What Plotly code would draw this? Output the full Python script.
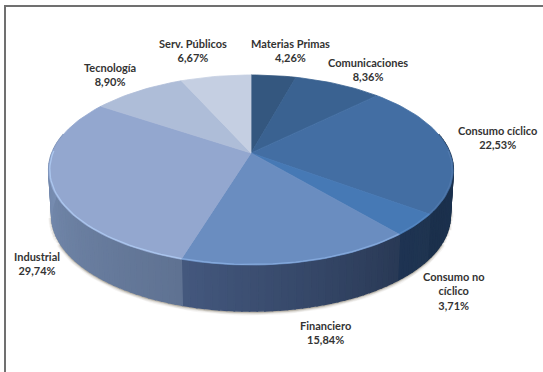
import math
import plotly.graph_objects as go

# Portfolio breakdown by sector, clockwise from twelve o'clock
sectors = ["Materias Primas", "Comunicaciones", "Consumo cíclico", "Consumo no cíclico",
           "Financiero", "Industrial", "Tecnología", "Serv. Públicos"]
weights = [4.26, 8.36, 22.53, 3.71, 15.84, 29.74, 8.90, 6.67]
label_text = ["Materias Primas<br>4,26%", "Comunicaciones<br>8,36%", "Consumo cíclico<br>22,53%",
              "Consumo no<br>cíclico<br>3,71%", "Financiero<br>15,84%", "Industrial<br>29,74%",
              "Tecnología<br>8,90%", "Serv. Públicos<br>6,67%"]

# Styling per sector
top_colors = ["#34577F", "#3A6291", "#436EA3", "#4679B5", "#6A8DC0", "#93A7CF", "#AEBDD8", "#C5CFE2"]
rim_colors = ["#5F7FA8", "#6288B8", "#4F78AC", "#5587C2", "#84A9DC", "#ABC6EE", "#C4D2E8", "#D6DEEC"]
side_start = ["#1B2F4A", "#1B2F4A", "#1C3350", "#1F3450", "#293955", "#5F7292", "#8FA3C4", "#8FA3C4"]
side_end = ["#1B2F4A", "#1B2F4A", "#1B304C", "#1E3352", "#44587E", "#8299BF", "#8FA3C4", "#8FA3C4"]
label_xy = [(290, 50), (368, 69.5), (497, 137), (453, 291), (325, 332.5), (37, 263.5), (110, 74.5), (193, 50.5)]

# Perspective disc: u to the right, v towards the viewer
CX, CY = 251, 153
A, B, K = 199, 92, 0.179
DEPTH = 46


def project(u, v, drop=0.0, shrink=1.0):
    d = 1 - K * v
    return CX + shrink * A * u / d, CY + B * v / d + drop


def rim(pct):
    t = math.radians(pct * 3.6)
    return math.sin(t), -math.cos(t)


def blend(c1, c2, f):
    a = [int(c1[i:i + 2], 16) for i in (1, 3, 5)]
    b = [int(c2[i:i + 2], 16) for i in (1, 3, 5)]
    return "rgb(%d,%d,%d)" % tuple(round(p + (q - p) * f) for p, q in zip(a, b))


def poly(xs, ys, color, stroke=0.8):
    return go.Scatter(x=xs, y=ys, mode="lines", fill="toself", fillcolor=color,
                      line=dict(color=color, width=stroke), hoverinfo="skip", showlegend=False)


fig = go.Figure()
total = sum(weights)
edges = [0.0]
for w in weights:
    edges.append(edges[-1] + w / total * 100)

# Soft contact shadow under the front wall
front = [(i / 200) * 100 for i in range(201)]
sx, sy = [], []
for pct in front:
    u, v = rim(pct)
    if v > -0.15:
        x, y = project(u, v, DEPTH + 1, 0.985)
        sx.append(x)
        sy.append(y)
order = sorted(range(len(sx)), key=lambda i: sx[i])
sx = [sx[i] for i in order]
sy = [sy[i] for i in order]
for width, alpha in ((7, 0.06), (5, 0.10), (3, 0.16), (1.5, 0.25)):
    fig.add_trace(go.Scatter(x=sx, y=sy, mode="lines",
                             line=dict(color=f"rgba(95,85,65,{alpha})", width=width),
                             hoverinfo="skip", showlegend=False))

# Front wall, one thin quad per step, shaded along each sector
for s, (p0, p1) in enumerate(zip(edges[:-1], edges[1:])):
    steps = max(2, int((p1 - p0) * 2))
    for i in range(steps):
        a0 = p0 + (p1 - p0) * i / steps
        a1 = p0 + (p1 - p0) * (i + 1) / steps
        u0, v0 = rim(a0)
        u1, v1 = rim(a1)
        if v0 < -0.2 and v1 < -0.2:
            continue
        f = (i + 0.5) / steps
        top0, top1 = project(u0, v0), project(u1, v1)
        bot0, bot1 = project(u0, v0, DEPTH, 0.985), project(u1, v1, DEPTH, 0.985)
        fig.add_trace(poly([top0[0], top1[0], bot1[0], bot0[0], top0[0]],
                           [top0[1], top1[1], bot1[1], bot0[1], top0[1]],
                           blend(side_start[s], side_end[s], f), stroke=1.6))

# Top face wedges with a thin bevel along the outer edge
for s, (p0, p1) in enumerate(zip(edges[:-1], edges[1:])):
    steps = max(4, int((p1 - p0) * 2))
    arc = [rim(p0 + (p1 - p0) * i / steps) for i in range(steps + 1)]
    pts = [project(u, v) for u, v in arc]
    fig.add_trace(poly([CX] + [p[0] for p in pts] + [CX],
                       [CY] + [p[1] for p in pts] + [CY], top_colors[s]))
    lit = [project(u * 0.995, v * 0.995) for u, v in arc if v > -0.05]
    if len(lit) > 1:
        fig.add_trace(go.Scatter(x=[q[0] for q in lit], y=[q[1] for q in lit], mode="lines",
                                 line=dict(color=rim_colors[s], width=1.3),
                                 hoverinfo="skip", showlegend=False))

for text, (lx, ly) in zip(label_text, label_xy):
    fig.add_annotation(x=lx, y=ly, text="<b>" + text.replace("<br>", "</b><br><b>") + "</b>",
                       showarrow=False, xanchor="center", yanchor="middle",
                       font=dict(family="Lato", size=11, color="#333333"), align="center")

# Chart frame runs off the right and bottom of the page
fig.add_shape(type="rect", x0=5, y0=6, x1=560, y1=400,
              line=dict(color="#707070", width=2), fillcolor="rgba(0,0,0,0)", layer="below")

fig.update_layout(width=543, height=372, margin=dict(l=0, r=0, t=0, b=0), autosize=False,
                  paper_bgcolor="white", plot_bgcolor="white", showlegend=False,
                  xaxis=dict(range=[0, 543], visible=False, fixedrange=True),
                  yaxis=dict(range=[372, 0], visible=False, fixedrange=True))
fig.write_html("out.html", config=dict(displayModeBar=False))
